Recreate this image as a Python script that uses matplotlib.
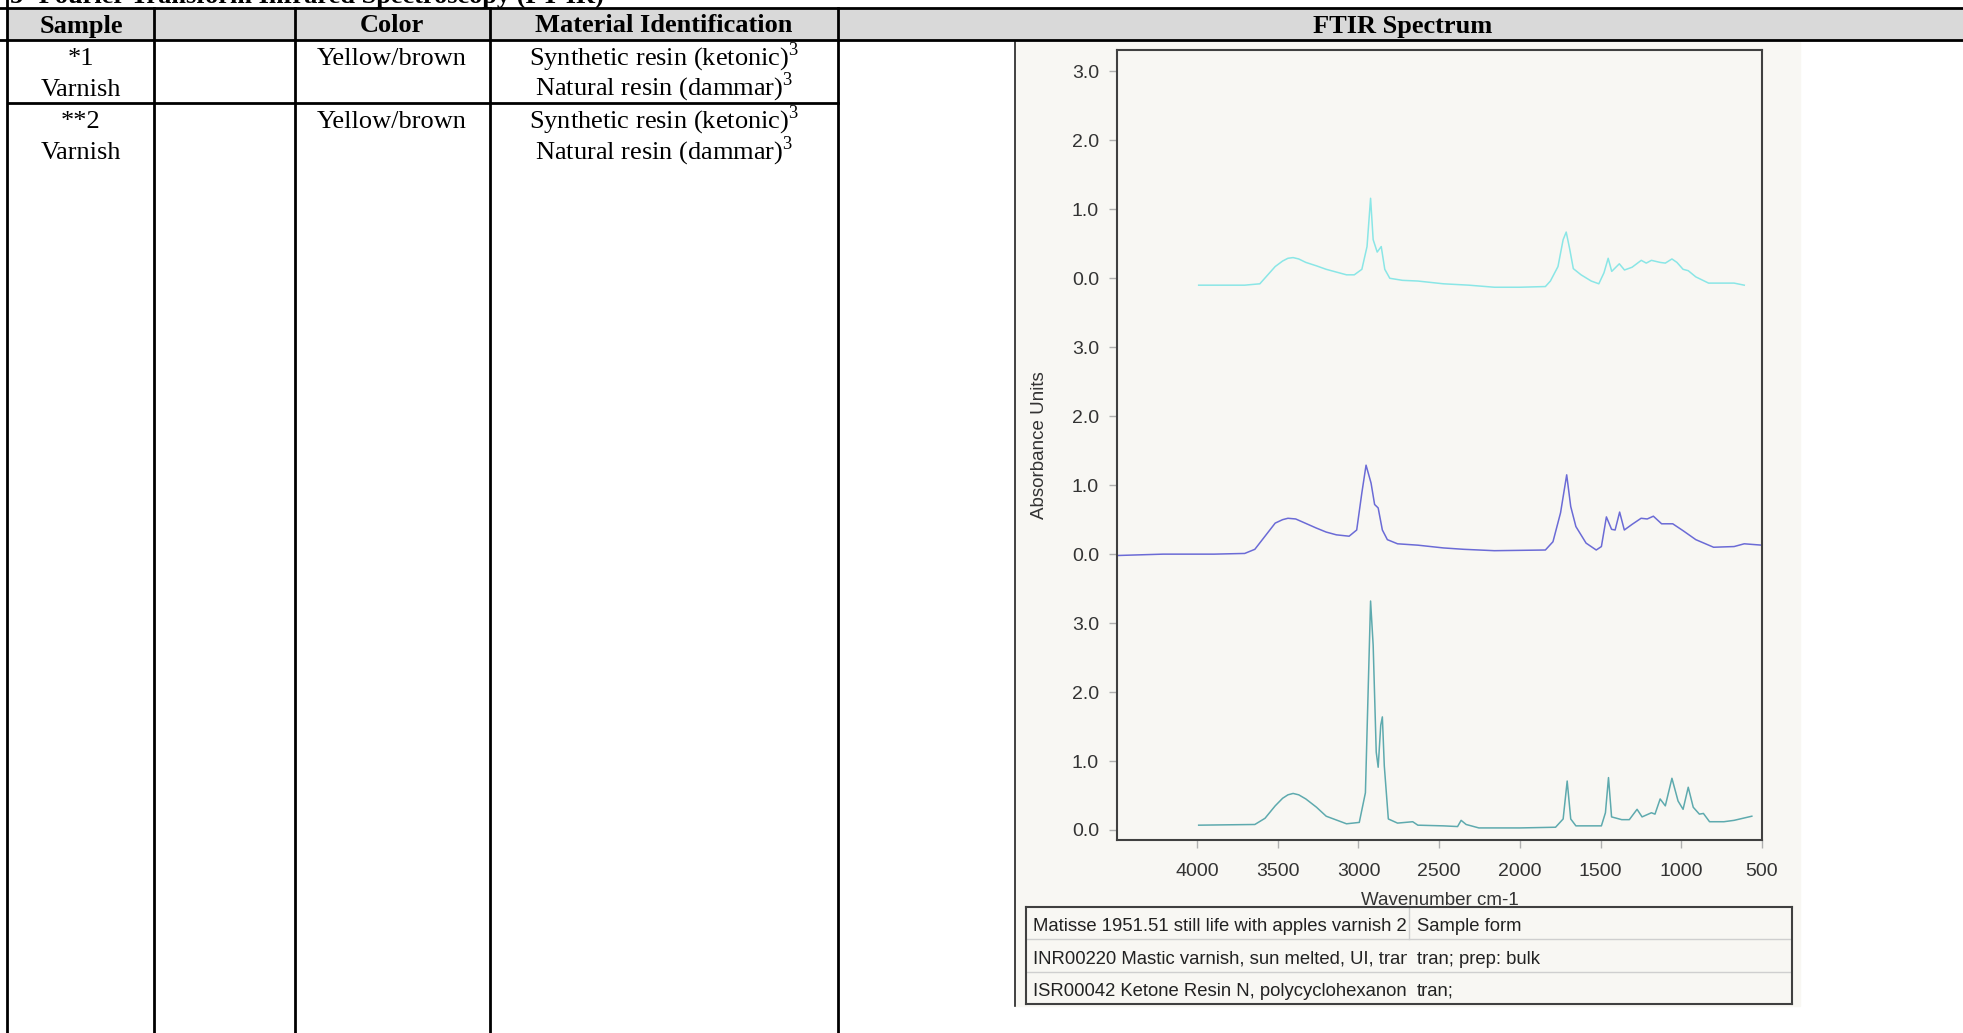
import matplotlib.pyplot as plt
from matplotlib.patches import Rectangle

plt.rcParams['mathtext.fontset'] = 'custom'
plt.rcParams['mathtext.rm'] = 'Liberation Serif'

# table contents
title = '5- Fourier Transform Infrared Spectroscopy (FT-IR)'
headers = ['Sample', '', 'Color', 'Material Identification', 'FTIR Spectrum']
samples = [['*1', 'Varnish'], ['**2', 'Varnish']]
colors = ['Yellow/brown', 'Yellow/brown']
materials = [['Synthetic resin (ketonic)$^3$', 'Natural resin (dammar)$^3$'],
             ['Synthetic resin (ketonic)$^3$', 'Natural resin (dammar)$^3$']]

# spectra (wavenumber cm-1, absorbance)
top_wn = [3990, 3705, 3611, 3516, 3470, 3437, 3405, 3370, 3326, 3260, 3200, 3074, 3026,
          2979, 2947, 2925, 2909, 2884, 2859, 2837, 2806, 2727, 2632,
          2474, 2316, 2158, 2000, 1842, 1811, 1764, 1732, 1713, 1691,
          1669, 1621, 1558, 1511, 1479, 1453, 1431, 1384, 1352, 1305,
          1248, 1217, 1185, 1131, 1099, 1058, 1027, 989, 957, 910,
          831, 736, 673, 610]
top_abs = [-0.10, -0.10, -0.08, 0.17, 0.25, 0.29, 0.30, 0.28, 0.23, 0.18, 0.13, 0.05, 0.05,
           0.13, 0.46, 1.16, 0.56, 0.38, 0.46, 0.13, 0.00, -0.03, -0.04,
           -0.08, -0.10, -0.13, -0.13, -0.12, -0.04, 0.17, 0.56, 0.67, 0.42,
           0.14, 0.05, -0.04, -0.08, 0.08, 0.29, 0.10, 0.21, 0.12, 0.16,
           0.26, 0.22, 0.26, 0.23, 0.22, 0.28, 0.23, 0.13, 0.11, 0.02,
           -0.07, -0.07, -0.07, -0.10]

mid_wn = [4495, 4210, 3895, 3705, 3642, 3579, 3516, 3470, 3437, 3389, 3350, 3263,
          3200, 3137, 3058, 3011, 2979, 2953, 2922, 2900, 2878, 2852, 2821,
          2758, 2632, 2474, 2348, 2158, 1842, 1795, 1748, 1710, 1685,
          1653, 1590, 1527, 1495, 1464, 1432, 1410, 1382, 1353, 1306,
          1249, 1211, 1173, 1122, 1053, 989, 910, 800, 673, 610, 500]
mid_abs = [-0.02, 0.00, 0.00, 0.01, 0.07, 0.26, 0.45, 0.50, 0.52, 0.51, 0.47, 0.38,
           0.32, 0.28, 0.26, 0.35, 0.89, 1.29, 1.03, 0.72, 0.67, 0.35, 0.21,
           0.15, 0.13, 0.09, 0.07, 0.05, 0.06, 0.18, 0.60, 1.15, 0.69,
           0.40, 0.16, 0.06, 0.11, 0.54, 0.36, 0.35, 0.61, 0.35, 0.43,
           0.52, 0.51, 0.55, 0.44, 0.44, 0.34, 0.21, 0.10, 0.11, 0.15, 0.13]

bot_wn = [3990, 3642, 3579, 3516, 3470, 3437, 3405, 3370, 3326, 3260, 3200, 3074, 2995,
          2957, 2938, 2925, 2909, 2890, 2878, 2862, 2852, 2840, 2815,
          2758, 2664, 2632, 2474, 2386, 2364, 2333, 2254, 2000, 1779,
          1732, 1707, 1685, 1653, 1495, 1470, 1451, 1432, 1369, 1322,
          1274, 1243, 1185, 1163, 1131, 1099, 1058, 1020, 989, 957,
          926, 888, 863, 825, 736, 673, 563]
bot_abs = [0.07, 0.08, 0.17, 0.35, 0.46, 0.51, 0.53, 0.51, 0.45, 0.33, 0.20, 0.09, 0.11,
           0.54, 2.20, 3.32, 2.68, 1.13, 0.91, 1.52, 1.64, 0.93, 0.16,
           0.10, 0.12, 0.07, 0.06, 0.05, 0.14, 0.08, 0.03, 0.03, 0.04,
           0.16, 0.71, 0.16, 0.06, 0.06, 0.25, 0.76, 0.19, 0.15, 0.15,
           0.30, 0.19, 0.25, 0.23, 0.45, 0.35, 0.75, 0.42, 0.30, 0.62,
           0.33, 0.23, 0.24, 0.12, 0.12, 0.14, 0.20]

offsets = [8, 4, 0]
line_colors = ['#8ae6e6', '#6b6bd6', '#5eaaae']
x_ticks = [4000, 3500, 3000, 2500, 2000, 1500, 1000, 500]
y_labels = ['0.0', '1.0', '2.0', '3.0']

legend_rows = [['Matisse 1951.51 still life with apples varnish 2', 'Sample form'],
               ['INR00220 Mastic varnish, sun melted, UI, tran', 'tran; prep: bulk'],
               ['ISR00042 Ketone Resin N, polycyclohexanone', 'tran;']]

W, H = 1963, 1033
bg = '#f8f7f3'
fig = plt.figure(figsize=(W / 100, H / 100), dpi=100)

# ---- table drawn in pixel coordinates ----
tab = fig.add_axes([0, 0, 1, 1])
tab.set_xlim(0, W)
tab.set_ylim(H, 0)
tab.axis('off')

tab.add_patch(Rectangle((8, 8), W, 32, color='#d9d9d9', zorder=0))
tab.add_patch(Rectangle((1015, 42), 785, 964, color=bg, zorder=0))
tab.plot([1015, 1015], [42, 1006], color='#222222', lw=1.2)

lw = 2.0
tab.plot([0, W], [7.5, 7.5], color='black', lw=lw)
tab.plot([0, W], [40, 40], color='black', lw=lw)
tab.plot([8, 838], [103, 103], color='black', lw=lw)
tab.plot([7, 7], [0, H], color='black', lw=lw)
for x in [154, 295, 490, 838]:
    tab.plot([x, x], [7.5, H], color='black', lw=lw)

serif = 'Liberation Serif'
# title row is mostly cut off by the top edge, as in the scan
tab.text(10, 3, title, fontsize=19, fontweight='bold', family=serif, va='baseline')
for cx, h in zip([81, 224, 392, 664, 1403], headers):
    tab.text(cx, 32.5, h, fontsize=19, fontweight='bold', family=serif,
             ha='center', va='baseline')

row_base = [[65, 95.5], [128.5, 159]]
for i in range(2):
    for j in range(2):
        tab.text(81, row_base[i][j], samples[i][j], fontsize=19, family=serif,
                 ha='center', va='baseline')
        tab.text(664, row_base[i][j], materials[i][j], fontsize=19, family=serif,
                 ha='center', va='baseline')
    tab.text(392, row_base[i][0], colors[i], fontsize=19, family=serif,
             ha='center', va='baseline')

# ---- spectrum ----
sans = 'Liberation Sans'
ax = fig.add_axes([1117 / W, 1 - 840 / H, 645 / W, 790 / H])
ax.set_facecolor(bg)
spectra = [(top_wn, top_abs), (mid_wn, mid_abs), (bot_wn, bot_abs)]
for (wn, ab), off, c in zip(spectra, offsets, line_colors):
    ax.plot(wn, [a + off for a in ab], color=c, lw=1.1, solid_joinstyle='round')

ax.set_xlim(4496, 500)
ax.set_ylim(-0.145, 11.31)
ax.set_xticks(x_ticks)
ax.set_xticklabels([str(t) for t in x_ticks], family=sans)
ax.set_yticks(range(12))
ax.set_yticklabels([y_labels[i % 4] for i in range(12)], family=sans)
ax.tick_params(direction='out', length=6, width=1, color='#b0b0b0',
               labelsize=14, labelcolor='#333333')
ax.tick_params(axis='x', pad=10.5)
ax.tick_params(axis='y', pad=7)
for s in ax.spines.values():
    s.set_color('#404040')
    s.set_linewidth(1.5)
ax.set_xlabel('Wavenumber cm-1', fontsize=13.5, family=sans, color='#333333')
ax.set_ylabel('Absorbance Units', fontsize=13.5, family=sans, color='#333333')
ax.xaxis.set_label_coords(0.5, -0.066)
ax.yaxis.set_label_coords(-0.107, 0.5)

# ---- legend table under the plot ----
lg = fig.add_axes([1026 / W, 1 - 1004 / H, 766 / W, 97 / H])
lg.set_facecolor(bg)
lg.set_xlim(1026, 1792)
lg.set_ylim(1004, 907)
lg.set_xticks([])
lg.set_yticks([])
for s in lg.spines.values():
    s.set_color('#404040')
    s.set_linewidth(1.5)
for y in [939, 972]:
    lg.plot([1026, 1792], [y, y], color='#cfcfcf', lw=1)
lg.plot([1409, 1409], [907, 939], color='#cfcfcf', lw=1)

col1 = fig.add_axes([1026 / W, 1 - 1004 / H, (1407 - 1026) / W, 97 / H])
col1.set_xlim(1026, 1407)
col1.set_ylim(1004, 907)
col1.axis('off')
for yc, (a, b) in zip([926, 959, 991], legend_rows):
    col1.text(1033, yc, a, fontsize=13.3, family=sans, color='#222222',
              va='center', clip_on=True)
    lg.text(1417, yc, b, fontsize=13.3, family=sans, color='#222222', va='center')

fig.savefig('out.png', dpi=100)
